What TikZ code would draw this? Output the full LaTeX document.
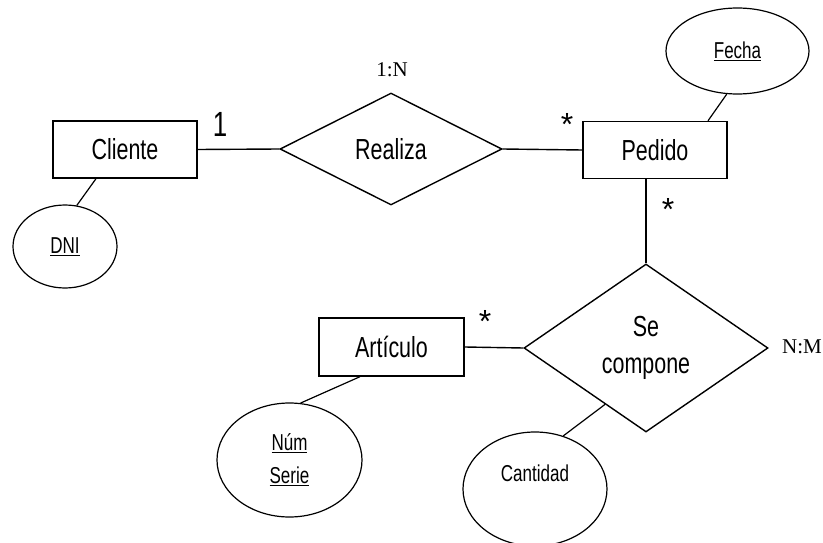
\documentclass[tikz,border=0pt]{standalone}
\usepackage{fontspec}
\setmainfont{Liberation Sans}
\newfontfamily\nsans[FakeStretch=0.74]{Liberation Sans}
\newfontfamily\tserif{Liberation Serif}
\usetikzlibrary{shapes.geometric}
\begin{document}
\begin{tikzpicture}[x=1pt,y=-1pt,
  entity/.style={draw, line width=1.4pt, minimum width=144pt, minimum height=57pt, inner sep=0pt, font=\nsans\fontsize{29}{36}\selectfont},
  rel/.style={draw, diamond, line width=1.4pt, inner sep=0pt, align=center, font=\nsans\fontsize{29}{37}\selectfont},
  attr/.style={draw, ellipse, line width=1.2pt, inner sep=0pt, align=center, font=\nsans\fontsize{23}{33}\selectfont},
  attrtext/.style={inner sep=0pt, font=\nsans\fontsize{23}{33}\selectfont},
  conn/.style={line width=1.4pt},
  card/.style={font=\tserif\fontsize{21}{25}\selectfont, inner sep=0pt},
  mult/.style={font=\fontsize{32}{32}\selectfont, inner sep=0pt, anchor=north},
  one/.style={font=\nsans\fontsize{35}{35}\selectfont, inner sep=0pt, anchor=north}
]
\fill[white] (0,0) rectangle (823,543);
\useasboundingbox (0,0) rectangle (823,543);
\clip (0,0) rectangle (823,543);

% entities
\node[entity] (cli) at (125,149.5) {Cliente};
\node[entity] (ped) at (655,150) {Pedido};
\node[entity, minimum width=145pt, minimum height=58pt] (art) at (391.5,347) {Artículo};

% relationships
\node[rel, minimum width=222pt, minimum height=112pt] (rea) at (391,149) {Realiza};
\node[rel, minimum width=244pt, minimum height=168pt] (sc) at (646,348) {Se\\compone};

% attributes
\node[attr, minimum width=104pt, minimum height=83pt] (dni) at (65,246.5) {\underline{DNI}};
\node[attr, minimum width=143pt, minimum height=86pt] (fecha) at (737.5,51) {\underline{Fecha}};
\node[attr, minimum width=145pt, minimum height=114pt] (num) at (289.5,460) {\underline{Núm}\\\underline{Serie}};
\node[attr, minimum width=144pt, minimum height=114pt] (cant) at (535,489) {};
\node[attrtext] (cantl) at (535,473) {Cantidad};

% connectors
\draw[conn] (cli.east) -- (rea.west);
\draw[conn] (rea.east) -- (ped.west);
\draw[conn] (sc.north |- ped.south) -- (sc.north);
\draw[conn] (art.east) -- (sc.west);
\draw[line width=1.2pt] ([xshift=-29pt]cli.south) -- (dni.74);
\draw[line width=1.2pt] ([xshift=53pt]ped.north) -- (fecha.256);
\draw[line width=1.2pt] ([xshift=-31.5pt]art.south) -- (num.79);
\draw[line width=1.2pt] (sc.234) -- (cant.62);

% cardinalities
\node[one] (c1) at (220,112) {1};
\node[card] (c1n) at (392,70) {1:N};
\node[card] (cnm) at (802,347) {N:M};
\node[mult] (m1) at (567,113) {*};
\node[mult] (m2) at (668,198) {*};
\node[mult] (m3) at (485,310) {*};
\end{tikzpicture}
\end{document}
